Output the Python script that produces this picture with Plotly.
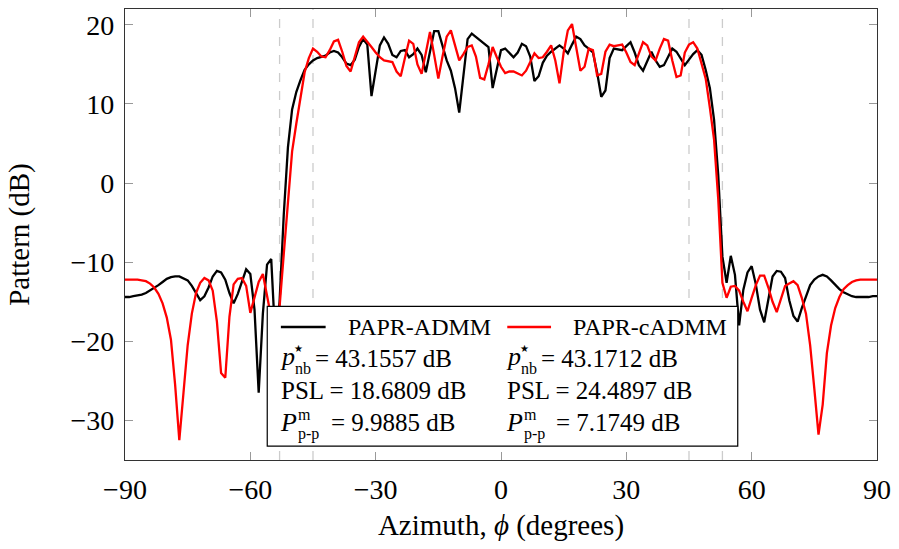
import plotly.graph_objects as go

azimuth = list(range(-90, 91))

papr_admm = [
    -14.4, -14.4, -14.3, -14.2, -14.1, -13.9, -13.6, -13.3, -12.9, -12.5,   # -90..-81
    -12.1, -11.9, -11.8, -11.8, -12.0, -12.3, -13.0, -14.0, -14.8, -14.3,   # -80..-71
    -13.2, -11.8, -11.1, -11.3, -12.2, -13.9, -15.2, -14.0, -12.4, -10.9,   # -70..-61
    -11.5, -16.0, -26.5, -16.5, -10.3, -9.6, -20.0, -15.0, -4.0, 4.5,       # -60..-51
    9.3, 11.5, 13.0, 14.3, 15.0, 15.5, 15.8, 16.0, 16.1, 16.5,              # -50..-41
    16.7, 16.5, 15.9, 15.1, 14.9, 15.6, 17.2, 18.2, 17.5, 11.0,             # -40..-31
    14.5, 17.4, 18.4, 17.6, 16.2, 15.9, 16.7, 16.8, 15.9, 16.3,             # -30..-21
    17.0, 16.2, 14.0, 16.5, 19.2, 19.2, 17.5, 15.5, 14.2, 12.0,             # -20..-11
    8.9, 14.0, 18.2, 18.9, 18.5, 18.0, 17.7, 17.2, 12.0, 14.5,              # -10..-1
    16.8,                                                                    # 0
    17.0, 16.4, 15.9, 16.5, 17.6, 17.3, 16.0, 12.9, 13.5, 15.2,             # 1..10
    16.1, 16.6, 17.0, 17.4, 17.0, 16.4, 17.5, 18.5, 18.2, 17.4,             # 11..20
    17.0, 16.5, 14.0, 10.9, 11.7, 15.8, 17.0, 16.9, 16.8, 17.3,             # 21..30
    17.8, 16.5, 14.9, 14.2, 15.5, 16.6, 15.5, 14.7, 14.9, 16.0,             # 31..40
    17.0, 16.6, 15.8, 14.9, 15.6, 16.3, 16.8, 16.2, 14.3, 12.0,             # 41..50
    8.0, 1.0, -9.3, -12.6, -9.2, -11.6, -18.0, -13.5, -11.3, -10.5,         # 51..60
    -12.8, -16.0, -17.6, -14.5, -11.8, -11.1, -11.2, -12.0, -14.8, -16.8,   # 61..70
    -17.5, -15.8, -14.3, -12.9, -12.2, -11.8, -11.6, -11.8, -12.3, -12.9,   # 71..80
    -13.4, -13.8, -14.1, -14.3, -14.4, -14.4, -14.4, -14.4, -14.3, -14.3,   # 81..90
]

papr_cadmm = [
    -12.2, -12.2, -12.2, -12.2, -12.3, -12.4, -12.7, -13.2, -14.0, -15.2,   # -90..-81
    -17.0, -19.8, -25.5, -32.5, -26.5, -20.5, -16.5, -13.9, -12.6, -12.0,   # -80..-71
    -12.3, -13.6, -17.5, -24.0, -24.6, -16.9, -12.8, -12.1, -12.0, -13.0,   # -70..-61
    -16.4, -14.5, -12.5, -11.5, -14.5, -17.0, -19.0, -15.6, -9.0, -2.5,     # -60..-51
    4.0, 7.5, 10.5, 14.0, 15.8, 17.0, 16.6, 16.0, 15.9, 16.8,               # -50..-41
    17.9, 18.1, 16.6, 14.8, 14.1, 16.0, 17.8, 18.5, 17.9, 17.2,             # -40..-31
    16.5, 15.9, 15.5, 15.4, 15.3, 14.1, 13.5, 15.8, 18.0, 17.6,             # -30..-21
    15.0, 13.8, 16.5, 19.1, 16.2, 13.2, 16.0, 18.5, 19.3, 17.5,             # -20..-11
    15.5, 16.3, 17.2, 17.4, 16.0, 13.3, 13.1, 15.0, 17.2, 15.9,             # -10..-1
    14.7,                                                                    # 0
    13.9, 14.1, 14.1, 13.8, 13.6, 14.2, 15.3, 16.4, 15.8, 15.9,             # 1..10
    16.6, 17.4, 15.5, 12.6, 16.5, 19.3, 20.1, 17.0, 14.2, 14.7,             # 11..20
    17.0, 16.8, 13.6, 13.8, 16.6, 17.5, 17.3, 17.4, 17.5, 16.5,             # 21..30
    15.3, 14.9, 16.5, 17.8, 17.4, 16.0, 15.5, 17.0, 18.2, 18.0,             # 31..40
    15.5, 13.4, 13.6, 16.5, 17.5, 17.8, 17.0, 15.0, 13.2, 9.5,              # 41..50
    5.5, -2.0, -12.6, -14.5, -13.1, -13.0, -13.6, -15.0, -16.2, -14.5,      # 51..60
    -12.9, -11.7, -11.7, -13.2, -15.0, -16.3, -14.5, -13.0, -12.7, -12.4,   # 61..70
    -12.9, -14.5, -16.5, -20.5, -26.0, -31.8, -28.0, -21.5, -18.0, -15.8,   # 71..80
    -14.4, -13.4, -12.9, -12.5, -12.3, -12.2, -12.2, -12.2, -12.2, -12.2,   # 81..90
]

band_edges = [-53, -45, 45, 53]
x_ticks = [-90, -60, -30, 0, 30, 60, 90]
y_ticks = [-30, -20, -10, 0, 10, 20]
series_names = ["PAPR-ADMM", "PAPR-cADMM"]
series_colors = ["#000000", "#ff0000"]
stats = [
    ["43.1557", "18.6809", "9.9885"],
    ["43.1712", "24.4897", "7.1749"],
]

W, H = 899, 549
L, R, T, B = 125, 881, 8, 460
FONT = "Liberation Serif"


def px(x):
    return (x - L) / (R - L)


def py(y):
    return (B - y) / (B - T)


def fmt(v):
    return ("\u2212" + str(abs(v))) if v < 0 else str(v)


fig = go.Figure()

for xe in band_edges:
    fig.add_shape(type="line", xref="x", yref="paper", x0=xe, x1=xe, y0=0, y1=1,
                  line=dict(color="#cccccc", width=1.3, dash="dash"), layer="below")

for vals, name, col in zip([papr_admm, papr_cadmm], series_names, series_colors):
    fig.add_trace(go.Scatter(x=azimuth, y=vals, mode="lines", name=name,
                             line=dict(color=col, width=2.3), showlegend=False))

# legend box
fig.add_shape(type="rect", xref="paper", yref="paper",
              x0=px(268), x1=px(741), y0=py(446), y1=py(306),
              line=dict(color="#000000", width=1.2), fillcolor="white", layer="above")

ann = []
col_off = [0, 226.7]
line_x = [(281.7, 326.7), (509.3, 553.3)]
name_x = [346.7, 573.3]
for i in range(2):
    fig.add_shape(type="line", xref="paper", yref="paper",
                  x0=px(line_x[i][0]), x1=px(line_x[i][1]), y0=py(326.7), y1=py(326.7),
                  line=dict(color=series_colors[i], width=2.3), layer="above")
    ann.append(dict(text=series_names[i], x=px(name_x[i]), y=py(327), size=24))
    o = col_off[i]
    # p_nb^star
    ann.append(dict(text="<i>p</i>", x=px(279 + o), y=py(356), size=26))
    ann.append(dict(text="\u2605", x=px(293 + o), y=py(348), size=10))
    ann.append(dict(text="nb", x=px(294 + o), y=py(368), size=16))
    ann.append(dict(text="= " + stats[i][0] + " dB", x=px(314 + o), y=py(358), size=25))
    # PSL
    ann.append(dict(text="PSL = " + stats[i][1] + " dB", x=px(280 + o), y=py(390), size=25))
    # P^m_p-p
    ann.append(dict(text="<i>P</i>", x=px(279 + o), y=py(422), size=26))
    ann.append(dict(text="m", x=px(297 + o), y=py(414), size=16))
    ann.append(dict(text="p-p", x=px(297 + o), y=py(434), size=16))
    ann.append(dict(text="= " + stats[i][2] + " dB", x=px(330 + o), y=py(422), size=25))

for a in ann:
    fig.add_annotation(text=a["text"], x=a["x"], y=a["y"], xref="paper", yref="paper",
                       xanchor="left", yanchor="middle", showarrow=False,
                       font=dict(family=FONT, size=a["size"], color="black"))

axis_common = dict(showgrid=False, zeroline=False, showline=True, mirror="ticks",
                   linecolor="#333333", linewidth=1.2, ticks="inside", ticklen=8,
                   tickcolor="#999999", tickwidth=1.2, ticklabelstandoff=4,
                   tickfont=dict(family=FONT, size=28, color="black"))

fig.update_layout(
    width=W, height=H,
    margin=dict(l=L, r=W - R, t=T, b=H - B),
    plot_bgcolor="white", paper_bgcolor="white",
    xaxis=dict(range=[-90, 90], tickvals=x_ticks, ticktext=[fmt(v) for v in x_ticks],
               title=dict(text="Azimuth, <i>\u03d5</i> (degrees)", standoff=10,
                          font=dict(family=FONT, size=29, color="black")),
               **axis_common),
    yaxis=dict(range=[-35, 22], tickvals=y_ticks, ticktext=[fmt(v) for v in y_ticks],
               title=dict(text="Pattern (dB)", standoff=32,
                          font=dict(family=FONT, size=29, color="black")),
               **axis_common),
)

fig.write_html("out.html")
